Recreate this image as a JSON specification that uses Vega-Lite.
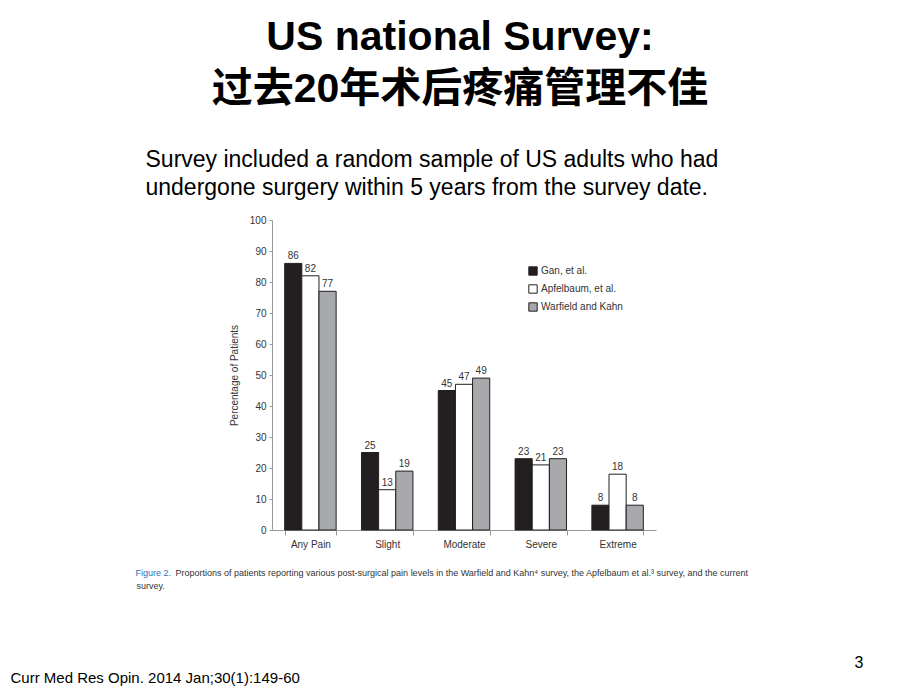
{
  "$schema": "https://vega.github.io/schema/vega-lite/v6.json",
  "width": 384,
  "height": 310,
  "autosize": {"type": "none"},
  "padding": {"left": 272, "top": 220, "right": 264, "bottom": 160},
  "background": "#ffffff",
  "title": {
    "text": "US national Survey:",
    "subtitle": "过去20年术后疼痛管理不佳",
    "anchor": "middle",
    "frame": "group",
    "font": "Liberation Sans",
    "fontSize": 41,
    "fontWeight": "bold",
    "color": "#000000",
    "subtitleFont": "Liberation Sans, Noto Sans CJK SC",
    "subtitleFontSize": 41,
    "subtitleFontWeight": "bold",
    "subtitleColor": "#000000",
    "subtitlePadding": 11,
    "offset": 37,
    "dx": -4
  },
  "data": {
    "values": [
      {"category": "Any Pain", "series": "Gan, et al.", "value": 86},
      {"category": "Any Pain", "series": "Apfelbaum, et al.", "value": 82},
      {"category": "Any Pain", "series": "Warfield and Kahn", "value": 77},
      {"category": "Slight", "series": "Gan, et al.", "value": 25},
      {"category": "Slight", "series": "Apfelbaum, et al.", "value": 13},
      {"category": "Slight", "series": "Warfield and Kahn", "value": 19},
      {"category": "Moderate", "series": "Gan, et al.", "value": 45},
      {"category": "Moderate", "series": "Apfelbaum, et al.", "value": 47},
      {"category": "Moderate", "series": "Warfield and Kahn", "value": 49},
      {"category": "Severe", "series": "Gan, et al.", "value": 23},
      {"category": "Severe", "series": "Apfelbaum, et al.", "value": 21},
      {"category": "Severe", "series": "Warfield and Kahn", "value": 23},
      {"category": "Extreme", "series": "Gan, et al.", "value": 8},
      {"category": "Extreme", "series": "Apfelbaum, et al.", "value": 18},
      {"category": "Extreme", "series": "Warfield and Kahn", "value": 8}
    ]
  },
  "layer": [
    {
      "mark": {"type": "bar", "stroke": "#231f20", "strokeWidth": 1},
      "encoding": {
        "x": {
          "field": "category", "type": "nominal",
          "sort": ["Any Pain", "Slight", "Moderate", "Severe", "Extreme"],
          "scale": {"paddingInner": 0.33, "paddingOuter": 0.165},
          "axis": {
            "orient": "bottom",
            "labelAngle": 0,
            "tickBand": "extent",
            "ticks": true,
            "tickSize": 5,
            "tickColor": "#999999",
            "domainColor": "#999999",
            "labelFontSize": 10,
            "labelColor": "#333333",
            "labelPadding": 4,
            "title": "Proportions of patients reporting various post-surgical pain levels in the Warfield and Kahn⁴ survey, the Apfelbaum et al.³ survey, and the current",
            "titleFont": "Liberation Sans",
            "titleFontSize": 9,
            "titleFontWeight": "normal",
            "titleColor": "#333333",
            "titleAlign": "left",
            "titleAnchor": "start",
            "titleBaseline": "alphabetic",
            "titleX": -97,
            "titleY": 45
          }
        },
        "xOffset": {
          "field": "series", "type": "nominal",
          "scale": {"domain": ["Gan, et al.", "Apfelbaum, et al.", "Warfield and Kahn"], "paddingInner": 0, "paddingOuter": 0}
        },
        "y": {
          "field": "value", "type": "quantitative",
          "scale": {"domain": [0, 100]},
          "axis": {
            "orient": "left",
            "tickCount": 10,
            "grid": false,
            "tickSize": 3,
            "tickColor": "#999999",
            "domainColor": "#999999",
            "labelFontSize": 10,
            "labelColor": "#333333",
            "labelPadding": 3,
            "title": "Percentage of Patients",
            "titleFontSize": 10,
            "titleFontWeight": "normal",
            "titleColor": "#333333",
            "titlePadding": 10
          }
        },
        "color": {
          "field": "series", "type": "nominal",
          "scale": {"domain": ["Gan, et al.", "Apfelbaum, et al.", "Warfield and Kahn"], "range": ["#231f20", "#ffffff", "#a7a9ac"]},
          "legend": {
            "orient": "none",
            "legendX": 256,
            "legendY": 46,
            "title": null,
            "symbolType": "square",
            "symbolSize": 70,
            "symbolStrokeColor": "#231f20",
            "symbolStrokeWidth": 1,
            "symbolOpacity": 1,
            "labelFontSize": 10,
            "labelColor": "#333333",
            "rowPadding": 4,
            "labelOffset": 3
          }
        }
      }
    },
    {
      "transform": [{"filter": "datum.series === 'Gan, et al.'"}],
      "mark": {"type": "text", "baseline": "bottom", "dy": -2, "fontSize": 10, "color": "#333333"},
      "encoding": {
        "x": {
          "field": "category", "type": "nominal",
          "sort": ["Any Pain", "Slight", "Moderate", "Severe", "Extreme"],
          "axis": {
            "orient": "top", "labels": false, "ticks": false, "domain": false, "grid": false,
            "title": ["Survey included a random sample of US adults who had", "undergone surgery within 5 years from the survey date."],
            "titleFont": "Liberation Sans",
            "titleFontSize": 23,
            "titleFontWeight": "normal",
            "titleColor": "#000000",
            "titleAlign": "left",
            "titleAnchor": "start",
            "titleBaseline": "alphabetic",
            "titleLineHeight": 28,
            "titleX": -127,
            "titleY": -54
          }
        },
        "xOffset": {"field": "series", "type": "nominal"},
        "y": {
          "field": "value", "type": "quantitative",
          "axis": {
            "orient": "right", "labels": false, "ticks": false, "domain": false, "grid": false,
            "title": "Curr Med Res Opin. 2014 Jan;30(1):149-60",
            "titleFont": "Liberation Sans",
            "titleFontSize": 15,
            "titleFontWeight": "normal",
            "titleColor": "#000000",
            "titleAngle": 0,
            "titleAlign": "left",
            "titleBaseline": "alphabetic",
            "titleX": -646,
            "titleY": 462
          }
        },
        "text": {"field": "value", "type": "quantitative"}
      }
    },
    {
      "transform": [{"filter": "datum.series === 'Apfelbaum, et al.'"}],
      "mark": {"type": "text", "baseline": "bottom", "dy": -2, "fontSize": 10, "color": "#333333"},
      "encoding": {
        "x": {
          "field": "category", "type": "nominal",
          "sort": ["Any Pain", "Slight", "Moderate", "Severe", "Extreme"],
          "axis": {
            "orient": "bottom", "labels": false, "ticks": false, "domain": false, "grid": false,
            "title": "Figure 2.",
            "titleFont": "Liberation Sans",
            "titleFontSize": 9,
            "titleFontWeight": "normal",
            "titleColor": "#2f6fb5",
            "titleAlign": "left",
            "titleAnchor": "start",
            "titleBaseline": "alphabetic",
            "titleX": -137,
            "titleY": 45
          }
        },
        "xOffset": {"field": "series", "type": "nominal"},
        "y": {
          "field": "value", "type": "quantitative",
          "axis": {
            "orient": "right", "labels": false, "ticks": false, "domain": false, "grid": false,
            "title": "survey.",
            "titleFont": "Liberation Sans",
            "titleFontSize": 9,
            "titleFontWeight": "normal",
            "titleColor": "#333333",
            "titleAngle": 0,
            "titleAlign": "left",
            "titleBaseline": "alphabetic",
            "titleX": -520,
            "titleY": 368
          }
        },
        "text": {"field": "value", "type": "quantitative"}
      }
    },
    {
      "transform": [{"filter": "datum.series === 'Warfield and Kahn'"}],
      "mark": {"type": "text", "baseline": "bottom", "dy": -2, "fontSize": 10, "color": "#333333"},
      "encoding": {
        "x": {
          "field": "category", "type": "nominal",
          "sort": ["Any Pain", "Slight", "Moderate", "Severe", "Extreme"],
          "axis": {
            "orient": "top", "labels": false, "ticks": false, "domain": false, "grid": false,
            "title": "3",
            "titleFont": "Liberation Sans",
            "titleFontSize": 16,
            "titleFontWeight": "normal",
            "titleColor": "#000000",
            "titleAlign": "left",
            "titleAnchor": "start",
            "titleBaseline": "alphabetic",
            "titleX": 582,
            "titleY": 447
          }
        },
        "xOffset": {"field": "series", "type": "nominal"},
        "y": {"field": "value", "type": "quantitative", "axis": null},
        "text": {"field": "value", "type": "quantitative"}
      }
    }
  ],
  "resolve": {"axis": {"x": "independent", "y": "independent"}},
  "config": {
    "font": "Liberation Sans",
    "view": {"stroke": null},
    "axis": {"grid": false}
  }
}
